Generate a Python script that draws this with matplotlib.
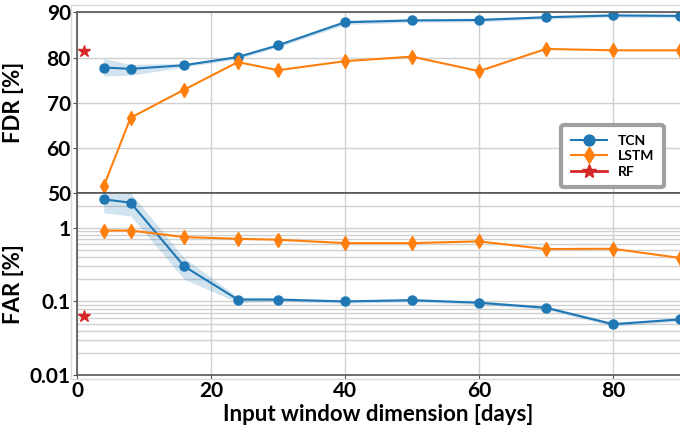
import numpy as np
import matplotlib
matplotlib.use("Agg")
import matplotlib.pyplot as plt
from matplotlib.patches import Rectangle
from matplotlib.ticker import FixedLocator, NullFormatter, LogLocator

plt.rcParams['font.family'] = ['Lato', 'DejaVu Sans']
plt.rcParams['font.weight'] = 'bold'

# data
window = [4, 8, 16, 24, 30, 40, 50, 60, 70, 80, 90]

tcn_fdr = [77.8, 77.5, 78.3, 80.1, 82.7, 87.8, 88.2, 88.3, 88.9, 89.3, 89.2]
tcn_fdr_lo = [75.9, 76.1, 77.9, 79.7, 82.3, 87.3, 87.8, 87.9, 88.5, 88.9, 88.8]
tcn_fdr_hi = [79.8, 78.5, 78.7, 80.5, 83.1, 88.3, 88.6, 88.7, 89.3, 89.7, 89.6]
lstm_fdr = [51.6, 66.7, 72.9, 79.0, 77.2, 79.2, 80.2, 77.0, 81.9, 81.6, 81.6]

tcn_far = [2.44, 2.2, 0.30, 0.106, 0.106, 0.100, 0.104, 0.096, 0.082, 0.049, 0.057]
tcn_far_lo = [1.6, 1.45, 0.20, 0.097, 0.100, 0.095, 0.099, 0.091, 0.078, 0.046, 0.054]
tcn_far_hi = [2.95, 3.0, 0.39, 0.115, 0.112, 0.105, 0.109, 0.101, 0.087, 0.052, 0.060]
lstm_far = [0.92, 0.92, 0.75, 0.71, 0.69, 0.62, 0.62, 0.655, 0.515, 0.52, 0.39]

rf_window = [1]
rf_fdr = [81.5]
rf_far = [0.063]

blue = '#1f77b4'
orange = '#ff7f0e'
red = '#d62728'
grid_c = '#d0d0d0'
spine_c = '#555555'

fig = plt.figure(figsize=(6.8, 4.26), dpi=100)
fig.patches.append(Rectangle((71 / 680, 1 - 379 / 426), 1.0, (379 - 5) / 426,
                             transform=fig.transFigure, fill=False,
                             edgecolor='#d9d9d9', linewidth=1, zorder=0))

left, right = 77 / 680, 1.0
y_mid = 1 - 193.3 / 426
ax1 = fig.add_axes([left, y_mid, right - left, (1 - 12.3 / 426) - y_mid])
ax2 = fig.add_axes([left, 1 - 375 / 426, right - left, y_mid - (1 - 375 / 426)], sharex=ax1)

# top: FDR
ax1.fill_between(window, tcn_fdr_lo, tcn_fdr_hi, color=blue, alpha=0.2, lw=0)
ax1.plot(window, tcn_fdr, color=blue, marker='o', ms=6.5, lw=1.5, label='TCN')
ax1.plot(window, lstm_fdr, color=orange, marker='d', ms=7, lw=1.5, label='LSTM', clip_on=False)
ax1.plot(rf_window, rf_fdr, color=red, marker='*', ms=9, lw=2, ls='-', label='RF')
ax1.set_ylim(50, 90)
ax1.set_yticks([50, 60, 70, 80, 90])
ax1.set_ylabel('FDR [%]', fontsize=16, fontweight='bold')

# bottom: FAR
ax2.fill_between(window, tcn_far_lo, tcn_far_hi, color=blue, alpha=0.2, lw=0)
ax2.plot(window, tcn_far, color=blue, marker='o', ms=6.5, lw=1.5)
ax2.plot(window, lstm_far, color=orange, marker='d', ms=7, lw=1.5)
ax2.plot(rf_window, rf_far, color=red, marker='*', ms=9, lw=0)
ax2.set_yscale('log')
ax2.set_ylim(0.01, 2.95)
ax2.yaxis.set_major_locator(FixedLocator([0.01, 0.1, 1]))
ax2.set_yticklabels(['0.01', '0.1', '1'])
ax2.yaxis.set_minor_locator(LogLocator(base=10, subs=np.arange(2, 10)))
ax2.yaxis.set_minor_formatter(NullFormatter())
ax2.set_ylabel('FAR [%]', fontsize=16, fontweight='bold')
ax2.set_xlabel('Input window dimension [days]', fontsize=16, fontweight='bold', labelpad=2)

# place y labels like the reference (about 24 px from the left edge)
ylab_x = (24 - 77) / 603
ax1.yaxis.set_label_coords(ylab_x, 0.5)
ax2.yaxis.set_label_coords(ylab_x, 0.5)

ax1.set_xlim(0, 90)
ax2.set_xticks([0, 20, 40, 60, 80])
plt.setp(ax1.get_xticklabels(), visible=False)

for ax in (ax1, ax2):
    ax.set_axisbelow(True)
    ax.grid(True, which='major', color=grid_c, lw=1)
    for s in ax.spines.values():
        s.set_color(spine_c)
        s.set_linewidth(1.2)
    ax.spines['right'].set_visible(False)
    ax.tick_params(axis='both', which='major', labelsize=15, length=3, color=spine_c, pad=1.5)
    ax.tick_params(axis='y', which='minor', length=0)
    for lab in ax.get_xticklabels() + ax.get_yticklabels():
        lab.set_fontweight('bold')
ax2.grid(True, which='minor', axis='y', color=grid_c, lw=1)
ax1.tick_params(axis='x', length=0)

leg = ax1.legend(loc='upper right', bbox_to_anchor=(671 / 680, 1 - 118 / 426),
                 bbox_transform=fig.transFigure, fancybox=True, framealpha=1,
                 prop={'weight': 'bold', 'size': 10}, handlelength=2.6, borderpad=0.7,
                 labelspacing=0.25, markerscale=1.2)
leg.get_frame().set_edgecolor('#a0a0a0')
leg.get_frame().set_linewidth(3)

fig.savefig('out.png', dpi=100)
